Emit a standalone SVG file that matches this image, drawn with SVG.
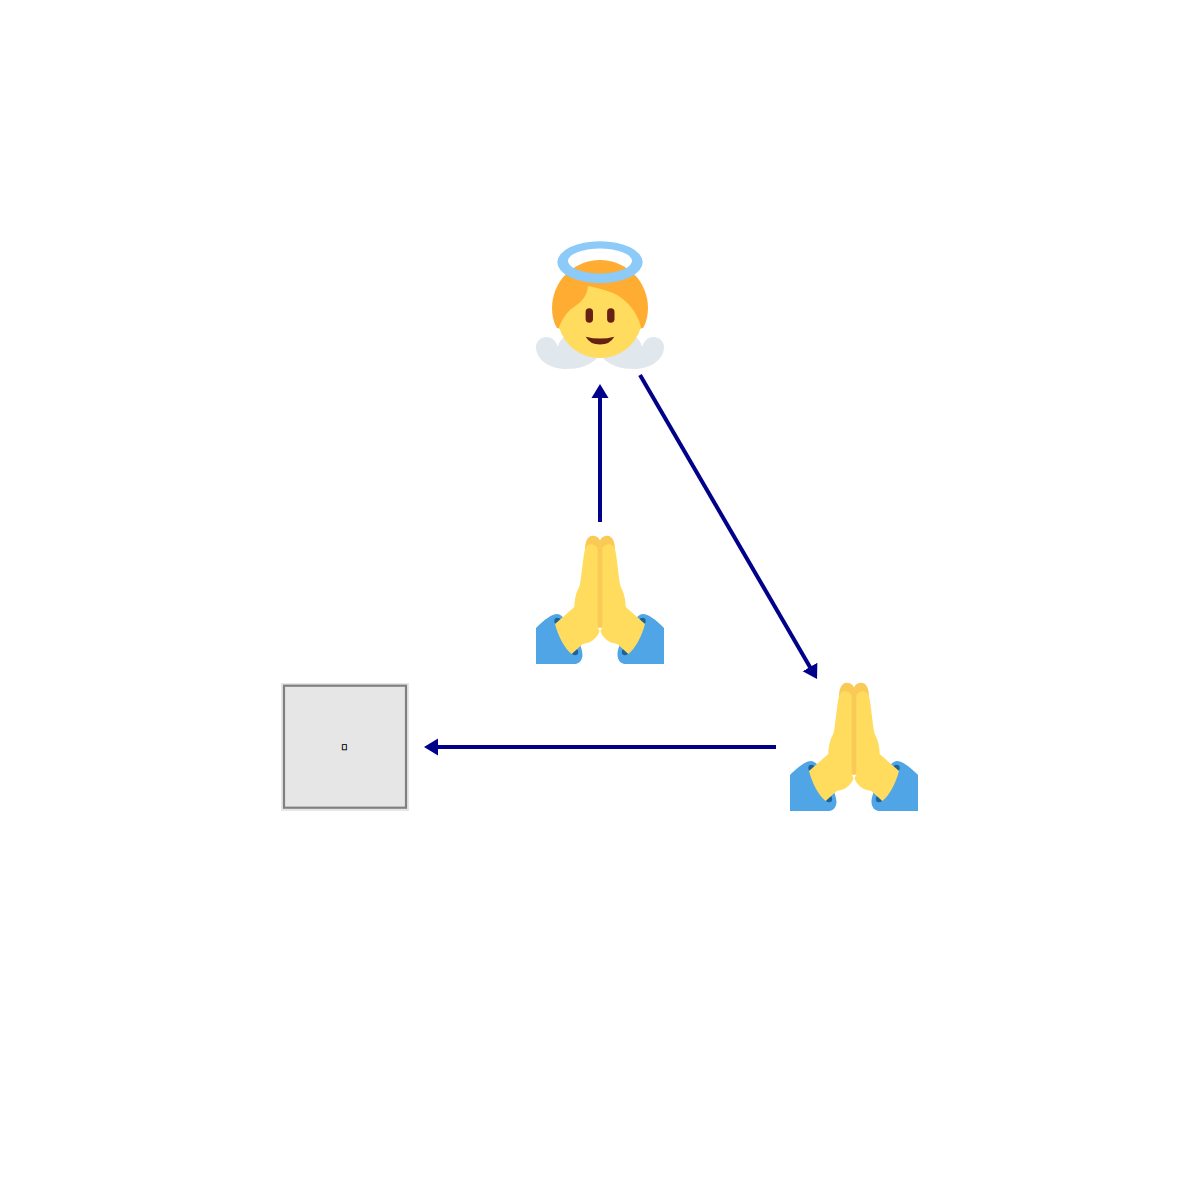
<svg xmlns="http://www.w3.org/2000/svg" xmlns:xlink="http://www.w3.org/1999/xlink" width="1200" height="1200" viewBox="0 0 1200 1200">
<style>
.wing{fill:#E1E8ED}.face{fill:#FFDC5D}.hair{fill:#FFAC33}.feat{fill:#662113}.halo{fill:#8CCAF7;fill-rule:evenodd}
.sleeve{fill:#50A5E6}.cuff{fill:#1C6399}.back{fill:#F9CA55}
.edge{fill:none;stroke:#00008B;stroke-width:4}
</style>
<defs>
<marker id="arrow" markerUnits="userSpaceOnUse" markerWidth="18" markerHeight="20" refX="4" refY="10" orient="auto"><path d="M0,1.500L14,10L0,18.500Z" fill="#00008B"/></marker>
<symbol id="pray" viewBox="536 535 128 130" width="128" height="130" overflow="visible">
<path class="sleeve" d="M536,664V628C545,619 552,614 557,614C566,614 583,645 582.500,655C582.500,660 579,664 575,664Z"/>
<path class="sleeve" d="M664,664V628C655,619 648,614 643,614C634,614 617,645 617.500,655C617.500,660 621,664 625,664Z"/>
<circle class="cuff" cx="557.500" cy="621" r="3.200"/><circle class="cuff" cx="575" cy="652" r="3.200"/>
<circle class="cuff" cx="642.500" cy="621" r="3.200"/><circle class="cuff" cx="625" cy="652" r="3.200"/>
<path class="back" d="M585,550C585,541 588,535.700 592.500,535.700C596,535.700 599,537.500 600,540.500C601,537.500 604,535.700 607.500,535.700C612,535.700 615,541 615,550L603,552V625C603,629 597,629 597,625V552Z"/>
<path class="face" d="M555,624L574.300,607C574.500,602 575,598 576,595C577,590 579,589 580,584C582,572 583,558 585,549C586,546 588.500,544.300 591,544.300C594,544.300 597.700,546.500 597.700,550V625C597.700,628 599,630 599.500,631.500C597,637 594,640 590,642C586,643.500 583,643.500 581.500,645L571.700,654C565,649 558,636 555,624Z"/>
<path class="face" d="M645,624L625.700,607C625.500,602 625,598 624,595C623,590 621,589 620,584C618,572 617,558 615,549C614,546 611.500,544.300 609,544.300C606,544.300 602.300,546.500 602.300,550V625C602.300,628 601,630 600.500,631.500C603,637 606,640 610,642C614,643.500 617,643.500 618.500,645L628.300,654C635,649 642,636 645,624Z"/>
</symbol>
</defs>
<rect width="1200" height="1200" fill="#FFFFFF"/>
<g id="connectors">
<line class="edge" x1="600" y1="522" x2="600" y2="394" marker-end="url(#arrow)"/>
<line class="edge" x1="640" y1="375" x2="812" y2="670.400" marker-end="url(#arrow)"/>
<line class="edge" x1="776" y1="747" x2="434" y2="747" marker-end="url(#arrow)"/>
</g>
<g id="node-angel">
<path class="wing" d="M597,358C590,366 578,369 566,369C550,369 536,360 536,347C536,341 541,337 547,337C552,337 556,341 558,347C559,341 563,337 567,336L590,345Z"/>
<path class="wing" d="M603,358C610,366 622,369 634,369C650,369 664,360 664,347C664,341 659,337 653,337C648,337 644,341 642,347C641,341 637,337 633,336L610,345Z"/>
<path class="hair" d="M556.700,327.700C553.500,322 552,315 552,308A48,48 0 0 1 648,308C648,315 646.500,322 643.300,327.700L600,340Z"/>
<path class="face" d="M559,327C563,318 566,314 570,310C576,305 587,300 588,286C598,288 606,290 613,293C625,298 637,311 641,327A42,42 0 0 1 600,358A42,42 0 0 1 559,327Z"/>
<rect class="feat" x="585.600" y="308.300" width="7.400" height="14.400" rx="3.700"/>
<rect class="feat" x="607.100" y="308.300" width="7.400" height="14.400" rx="3.700"/>
<path class="feat" d="M585.700,336.700Q600,340.500 614.300,336.700Q610,344.500 600,344.500Q590,344.500 585.700,336.700Z"/>
<path class="halo" d="M557.300,262.200A42.700,21 0 1 1 642.700,262.200A42.700,21 0 1 1 557.300,262.200ZM568,261A32,12.500 0 1 0 632,261A32,12.500 0 1 0 568,261Z"/>
</g>
<g id="node-pray-1"><use href="#pray" x="536" y="535"/></g>
<g id="node-pray-2"><use href="#pray" x="790" y="682"/></g>
<g id="node-box">
<rect x="281" y="683" width="128" height="128" fill="#E6E6E6"/>
<rect x="284" y="685.700" width="122" height="122" fill="#E6E6E6" stroke="#808080" stroke-width="2.200"/>
<text x="344.500" y="749.500" font-size="8" text-anchor="middle" stroke="#000000" stroke-width="0.500" font-family="'Liberation Sans','Noto Sans CJK SC',sans-serif">&#xE000;</text>
</g>
</svg>
